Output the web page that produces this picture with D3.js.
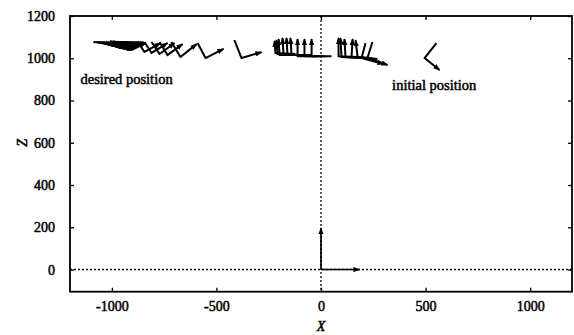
<!DOCTYPE html>
<html><head><meta charset="utf-8">
<script src="https://cdn.jsdelivr.net/npm/d3@7/dist/d3.min.js"></script>
<style>body{margin:0;background:#fff}svg{display:block}</style>
</head><body>
<svg id="c" width="574" height="335"></svg>
<script>
// ---- data (X, Z coordinates of each drawn arm configuration) ----
const baseX  = [552, 246, 213, 270, 241, 213, 194, 175, 50, 17, -17, -45, -65, -84, -103, -112, -122,
                -414, -590, -715, -772, -810, -844, -877,
                -944, -954, -963, -973, -983, -992, -1002, -1011, -1021, -1030, -1040, -1049, -1059, -1073, -1088];
const baseZ  = [1072, 1077, 1072, 996, 1001, 1001, 1001, 1006, 1010, 1010, 1010, 1015, 1015, 1015, 1015, 1015, 1020,
                1086, 1072, 1077, 1077, 1077, 1077, 1077,
                1077, 1077, 1077, 1077, 1077, 1077, 1077, 1077, 1077, 1077, 1077, 1077, 1077, 1077, 1077];
const elbowX = [495, 222, 194, 175, 146, 117, 98, 84, -45, -79, -112, -141, -160, -179, -198, -208, -218,
                -380, -552, -672, -734, -772, -810, -844,
                -906, -916, -925, -935, -944, -954, -963, -968, -978, -987, -997, -1002, -1011, -1026, -1035];
const elbowZ = [1001, 1001, 1001, 1006, 1006, 1006, 1006, 1010, 1010, 1010, 1010, 1015, 1015, 1015, 1015, 1020, 1025,
                1001, 1001, 1006, 1015, 1020, 1025, 1030,
                1039, 1039, 1039, 1044, 1044, 1048, 1048, 1053, 1053, 1058, 1058, 1063, 1063, 1067, 1072];
const tipX   = [567, 318, 299, 165, 151, 112, 93, 84, -45, -79, -112, -146, -165, -184, -203, -213, -222,
                -284, -466, -595, -662, -700, -734, -767,
                -839, -849, -858, -868, -873, -882, -892, -901, -911, -920, -930, -939, -949, -963, -978];
const tipZ   = [944, 968, 973, 1086, 1091, 1091, 1096, 1096, 1091, 1091, 1091, 1096, 1096, 1096, 1091, 1086, 1082,
                1029, 1044, 1067, 1067, 1072, 1072, 1072,
                1072, 1077, 1077, 1077, 1077, 1077, 1077, 1077, 1077, 1077, 1077, 1077, 1077, 1077, 1077];
// reference frame arrows at origin
const frameArrowX = [0, 184];
const frameArrowZ = [196, 0];
const xTicks = [-1000, -500, 0, 500, 1000];
const zTicks = [0, 200, 400, 600, 800, 1000, 1200];
const labels = [{t: "desired position", x: -1150, z: 880}, {t: "initial position", x: 340, z: 850}];

// ---- drawing ----
const svg = d3.select("#c");
const x = d3.scaleLinear().domain([-1200, 1200]).range([70, 572]);
const y = d3.scaleLinear().domain([-105, 1200]).range([291.7, 16]);
const font = "'Liberation Serif', 'Times New Roman', Times, serif";
const ink = 0.5;
const fmt = d => String(d);  // plain hyphen-minus as in the original

const defs = svg.append("defs");
defs.append("marker").attr("id", "ah").attr("markerUnits", "userSpaceOnUse")
  .attr("viewBox", "0 0 8 6").attr("refX", 7).attr("refY", 3)
  .attr("markerWidth", 7).attr("markerHeight", 5.5).attr("orient", "auto")
  .append("path").attr("d", "M0,0 L8,3 L0,6 Z").attr("fill", "#000");

// dotted axes through the origin
svg.append("line").attr("x1", x(-1200)).attr("x2", x(1200)).attr("y1", y(0)).attr("y2", y(0))
  .attr("stroke", "#000").attr("stroke-width", 1.3).attr("stroke-dasharray", "2,2");
svg.append("line").attr("x1", x(0)).attr("x2", x(0)).attr("y1", y(1200)).attr("y2", y(-105))
  .attr("stroke", "#000").attr("stroke-width", 1.3).attr("stroke-dasharray", "2,2");

// frame
svg.append("rect").attr("x", x(-1200)).attr("y", y(1200))
  .attr("width", x(1200) - x(-1200)).attr("height", y(-105) - y(1200))
  .attr("fill", "none").attr("stroke", "#000").attr("stroke-width", 1.8);

// axes (inward ticks on all sides)
const tickStyle = g => {
  g.select(".domain").remove();
  g.selectAll(".tick line").attr("stroke", "#000").attr("stroke-width", 1.3);
  g.selectAll(".tick text").attr("font-family", font).attr("font-size", 14)
    .attr("fill", "#000").attr("stroke", "#000").attr("stroke-width", ink);
};
svg.append("g").attr("transform", `translate(0,${y(-105)})`)
  .call(d3.axisBottom(x).tickValues(xTicks).tickSize(-4).tickPadding(9).tickFormat(fmt))
  .call(tickStyle);
svg.append("g").attr("transform", `translate(0,${y(1200)})`)
  .call(d3.axisTop(x).tickValues(xTicks).tickSize(-4).tickFormat(""))
  .call(tickStyle);
svg.append("g").attr("transform", `translate(${x(-1200)},0)`)
  .call(d3.axisLeft(y).tickValues(zTicks).tickSize(-4).tickPadding(15).tickFormat(fmt))
  .call(tickStyle);
svg.append("g").attr("transform", `translate(${x(1200)},0)`)
  .call(d3.axisRight(y).tickValues(zTicks).tickSize(-4).tickFormat(""))
  .call(tickStyle);

// axis titles
svg.append("text").attr("x", x(0)).attr("y", 331).attr("text-anchor", "middle")
  .attr("font-family", font).attr("font-style", "italic").attr("font-size", 14)
  .attr("stroke", "#000").attr("stroke-width", ink).text("X");
svg.append("text").attr("transform", `translate(27,${y(600)}) rotate(-90)`).attr("text-anchor", "middle")
  .attr("font-family", font).attr("font-style", "italic").attr("font-size", 14)
  .attr("stroke", "#000").attr("stroke-width", ink).text("Z");

// origin frame arrows
frameArrowX.forEach((_, i) => {
  svg.append("line").attr("x1", x(0)).attr("y1", y(0))
    .attr("x2", x(frameArrowX[i])).attr("y2", y(frameArrowZ[i]))
    .attr("stroke", "#000").attr("stroke-width", 1.7).attr("marker-end", "url(#ah)");
});

// arm configurations
const line = d3.line().x(d => x(d[0])).y(d => y(d[1]));
baseX.forEach((_, i) => {
  const pts = [[baseX[i], baseZ[i]], [elbowX[i], elbowZ[i]], [tipX[i], tipZ[i]]];
  svg.append("path").attr("d", line(pts)).attr("fill", "none")
    .attr("stroke", "#000").attr("stroke-width", 2).attr("stroke-linejoin", "round")
    .attr("marker-end", "url(#ah)");
});

// annotations
labels.forEach(l => {
  svg.append("text").attr("x", x(l.x)).attr("y", y(l.z))
    .attr("font-family", font).attr("font-size", 14.5).attr("fill", "#000")
    .attr("stroke", "#000").attr("stroke-width", ink).text(l.t);
});
</script>
</body></html>
